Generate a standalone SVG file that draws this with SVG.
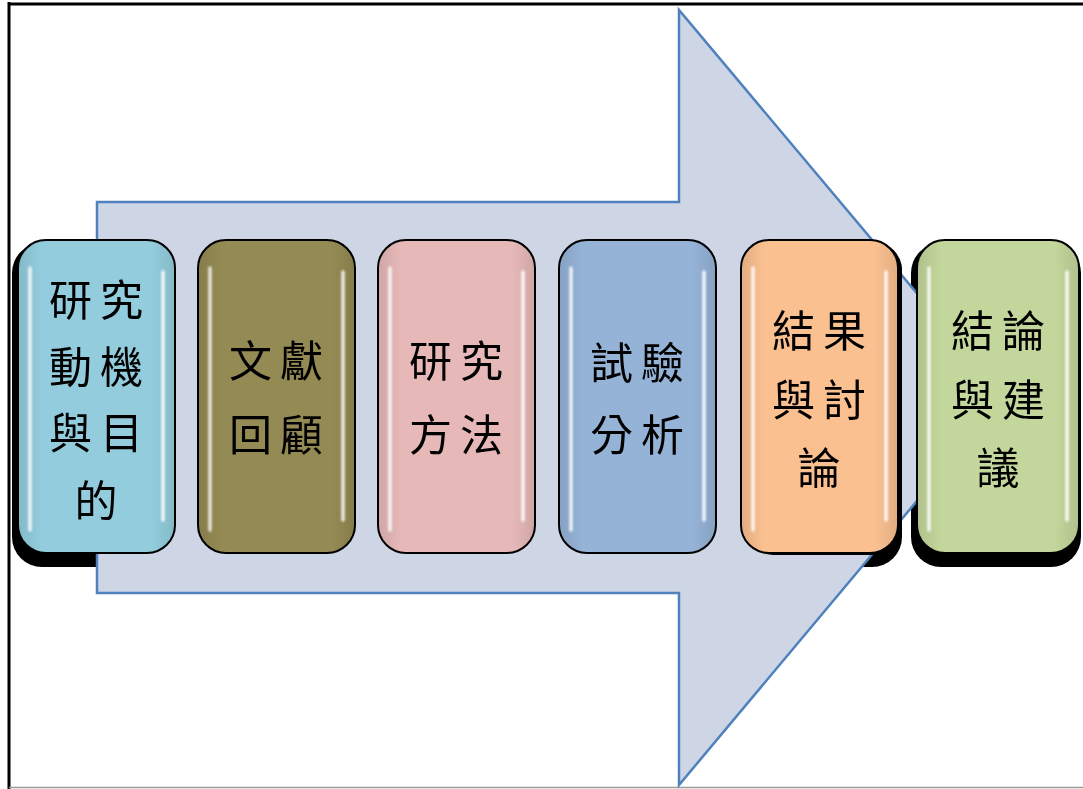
<svg xmlns="http://www.w3.org/2000/svg" width="1083" height="789" viewBox="0 0 1083 789">
<style>
.box{stroke:#000;stroke-width:2}
.shadow{fill:#000}
.lbl{font-family:"Noto Sans CJK TC","Noto Sans CJK SC",sans-serif;font-size:43px;fill:#000;text-anchor:middle;dominant-baseline:central;letter-spacing:8px}
.hl{stroke:#fff;stroke-width:3.5;stroke-linecap:round;fill:none}
</style>
<defs>
<filter id="blur" x="-50%" y="-10%" width="200%" height="120%"><feGaussianBlur stdDeviation="1"/></filter>
<linearGradient id="shade" x1="0" y1="0" x2="1" y2="0">
<stop offset="0" stop-color="#000" stop-opacity="0.10"/>
<stop offset="0.15" stop-color="#000" stop-opacity="0"/>
<stop offset="0.85" stop-color="#000" stop-opacity="0"/>
<stop offset="1" stop-color="#000" stop-opacity="0.10"/>
</linearGradient>
</defs>
<rect x="0" y="0" width="1083" height="789" fill="#fff"/>
<g id="frame">
<line x1="9" y1="2" x2="9" y2="789" stroke="#000" stroke-width="3"/>
<line x1="8" y1="4" x2="1083" y2="4" stroke="#000" stroke-width="3"/>
<line x1="9" y1="787.5" x2="1083" y2="787.5" stroke="#9a9a9a" stroke-width="1.5"/>
</g>
<g id="shadows">
<rect class="shadow" x="12" y="243" width="167" height="324" rx="30"/>
<rect class="shadow" x="735" y="243" width="167" height="324" rx="30"/>
<rect class="shadow" x="911" y="243" width="170" height="324" rx="30"/>
</g>
<g id="connectors">
<polygon id="big-arrow" points="97,202 679,202 679,10 1004,397 679,785 679,593 97,593" fill="#CED6E6" stroke="#4F81BD" stroke-width="2.5" stroke-linejoin="miter"/>
</g>
<g id="node1">
<rect class="box" x="18" y="240" width="157" height="313" rx="28" fill="#93CDDD"/>
<rect x="18" y="240" width="157" height="313" rx="28" fill="url(#shade)"/>
<g filter="url(#blur)"><line class="hl" x1="30" y1="268" x2="30" y2="530" opacity="0.85"/><line class="hl" x1="163" y1="272" x2="163" y2="520" opacity="0.9"/></g>
<text class="lbl"><tspan x="100" y="297">研究</tspan><tspan x="100" y="364">動機</tspan><tspan x="100" y="430">與目</tspan><tspan x="100" y="498">的</tspan></text>
</g>
<g id="node2">
<rect class="box" x="198" y="240" width="157" height="313" rx="28" fill="#948A54"/>
<rect x="198" y="240" width="157" height="313" rx="28" fill="url(#shade)"/>
<g filter="url(#blur)"><line class="hl" x1="210" y1="268" x2="210" y2="530" opacity="0.8"/><line class="hl" x1="343" y1="272" x2="343" y2="520" opacity="0.85"/></g>
<text class="lbl"><tspan x="280" y="358">文獻</tspan><tspan x="280" y="432">回顧</tspan></text>
</g>
<g id="node3">
<rect class="box" x="378" y="240" width="157" height="313" rx="28" fill="#E6B9B8"/>
<rect x="378" y="240" width="157" height="313" rx="28" fill="url(#shade)"/>
<g filter="url(#blur)"><line class="hl" x1="390" y1="268" x2="390" y2="530" opacity="0.85"/><line class="hl" x1="523" y1="272" x2="523" y2="520" opacity="0.9"/></g>
<text class="lbl"><tspan x="460" y="358">研究</tspan><tspan x="460" y="432">方法</tspan></text>
</g>
<g id="node4">
<rect class="box" x="559" y="240" width="157" height="313" rx="28" fill="#95B3D7"/>
<rect x="559" y="240" width="157" height="313" rx="28" fill="url(#shade)"/>
<g filter="url(#blur)"><line class="hl" x1="571" y1="268" x2="571" y2="530" opacity="0.85"/><line class="hl" x1="704" y1="272" x2="704" y2="520" opacity="0.9"/></g>
<text class="lbl"><tspan x="641" y="360">試驗</tspan><tspan x="641" y="432">分析</tspan></text>
</g>
<g id="node5">
<rect class="shadow" x="745" y="242" width="157" height="313" rx="28"/>
<rect class="box" x="741" y="240" width="157" height="313" rx="28" fill="#FAC090"/>
<rect x="741" y="240" width="157" height="313" rx="28" fill="url(#shade)"/>
<g filter="url(#blur)"><line class="hl" x1="753" y1="268" x2="753" y2="530" opacity="0.85"/><line class="hl" x1="886" y1="272" x2="886" y2="520" opacity="0.9"/></g>
<text class="lbl"><tspan x="823" y="328">結果</tspan><tspan x="823" y="397">與討</tspan><tspan x="823" y="465">論</tspan></text>
</g>
<g id="node6">
<rect class="box" x="917" y="240" width="162" height="313" rx="28" fill="#C3D69B"/>
<rect x="917" y="240" width="162" height="313" rx="28" fill="url(#shade)"/>
<g filter="url(#blur)"><line class="hl" x1="929" y1="268" x2="929" y2="530" opacity="0.85"/><line class="hl" x1="1067" y1="272" x2="1067" y2="520" opacity="0.9"/></g>
<text class="lbl"><tspan x="1002" y="328">結論</tspan><tspan x="1002" y="397">與建</tspan><tspan x="1002" y="465">議</tspan></text>
</g>
</svg>
